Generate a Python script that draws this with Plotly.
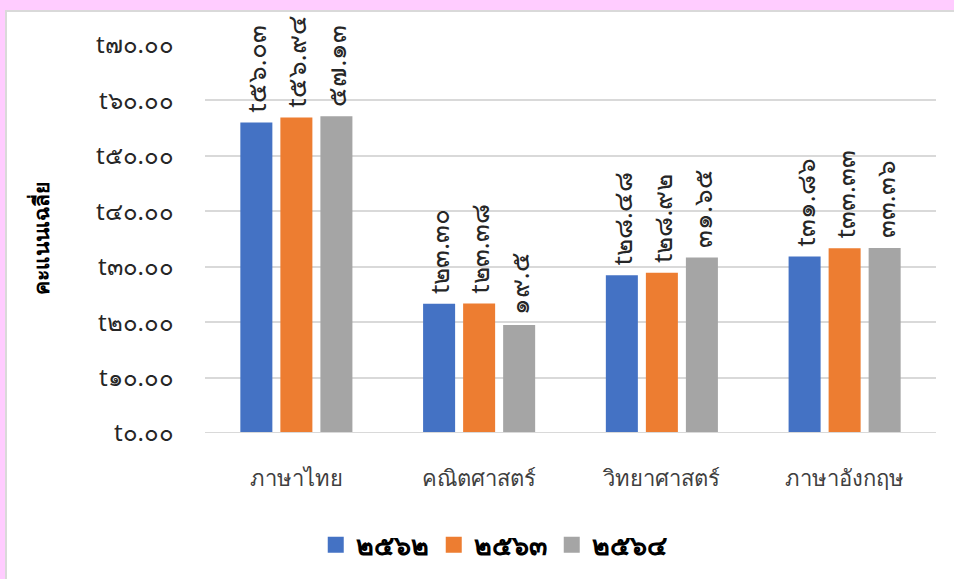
import plotly.graph_objects as go

categories = ["ภาษาไทย", "คณิตศาสตร์", "วิทยาศาสตร์", "ภาษาอังกฤษ"]
series_names = ["๒๕๖๒", "๒๕๖๓", "๒๕๖๔"]
values_2562 = [56.03, 23.30, 28.48, 31.86]
values_2563 = [56.94, 23.38, 28.92, 33.33]
values_2564 = [57.13, 19.5, 31.65, 33.36]
labels_2562 = ["t๕๖.๐๓", "t๒๓.๓๐", "t๒๘.๔๘", "t๓๑.๘๖"]
labels_2563 = ["t๕๖.๙๔", "t๒๓.๓๘", "t๒๘.๙๒", "t๓๓.๓๓"]
labels_2564 = ["๕๗.๑๓", "๑๙.๕", "๓๑.๖๕", "๓๓.๓๖"]
colors = ["#4472C4", "#ED7D31", "#A5A5A5"]
tick_vals = [0, 10, 20, 30, 40, 50, 60, 70]
tick_text = ["t๐.๐๐", "t๑๐.๐๐", "t๒๐.๐๐", "t๓๐.๐๐", "t๔๐.๐๐", "t๕๐.๐๐", "t๖๐.๐๐", "t๗๐.๐๐"]
y_title = "คะแนนเฉลี่ย"

fig = go.Figure()
for name, vals, labs, col in zip(series_names,
                                 [values_2562, values_2563, values_2564],
                                 [labels_2562, labels_2563, labels_2564],
                                 colors):
    fig.add_trace(go.Bar(
        x=categories, y=vals, name=name, marker_color=col,
        marker_line_width=0, showlegend=False,
        text=labs, textposition="outside", textangle=-90,
        texttemplate="\u00a0%{text}",
        constraintext="none",
        textfont=dict(size=26, color="#262626"),
        cliponaxis=False,
    ))
# legend entries with larger square swatches
for name, col in zip(series_names, colors):
    fig.add_trace(go.Scatter(
        x=[None], y=[None], mode="markers", name=name,
        marker=dict(symbol="square", size=16, color=col),
        showlegend=True,
    ))

fig.update_layout(
    width=954, height=579,
    paper_bgcolor="#FFCCFF",
    plot_bgcolor="white",
    margin=dict(l=205, r=18, t=45, b=146, autoexpand=False),
    barmode="group", bargap=0.343, bargroupgap=0.2,
    font=dict(family="Noto Sans, DejaVu Sans, sans-serif", color="#262626"),
    showlegend=True,
    legend=dict(orientation="h", x=0.395, xanchor="center", y=-0.289, yanchor="middle",
                bgcolor="rgba(0,0,0,0)", itemsizing="trace",
                font=dict(size=27, color="#000000", weight="bold"),
                itemwidth=30, traceorder="normal"),
    shapes=[dict(type="rect", xref="paper", yref="paper",
                 x0=-199/731, x1=1 + 18/731 + 0.01,
                 y0=-146/388 - 0.02, y1=1 + 34/388,
                 fillcolor="white", line=dict(color="#D9D9D9", width=2),
                 layer="below")],
)
fig.update_xaxes(showgrid=False, showline=False, ticks="",
                 ticklabelstandoff=30, automargin=False,
                 tickfont=dict(size=22, color="#404040"))
fig.update_yaxes(range=[0, 70], tickvals=tick_vals, ticktext=tick_text,
                 gridcolor="#D9D9D9", gridwidth=2, zeroline=False,
                 showline=False, ticks="", automargin=False,
                 ticklabelstandoff=30,
                 tickfont=dict(size=24, color="#262626"),
                 title=dict(text=y_title, font=dict(size=21, color="#000000", weight="bold"),
                            standoff=40))
fig.add_hline(y=0, line_color="#D9D9D9", line_width=2)

fig.write_html("out.html", config={"displayModeBar": False},
               post_script="document.body.style.margin='0px';")
